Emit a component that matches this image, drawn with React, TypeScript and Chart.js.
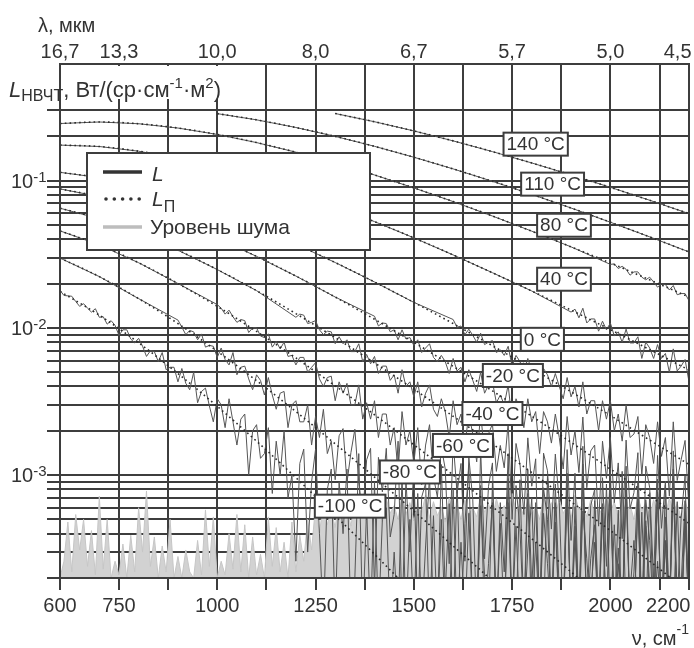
import React, { useEffect, useRef } from 'react';
import { Chart, registerables } from 'chart.js';

Chart.register(...registerables);

// ---------------- axes ----------------
const nuMin = 600;
const nuMax = 2200;
const nuGridTicks = [600, 750, 875, 1000, 1125, 1250, 1375, 1500, 1625, 1750, 1875, 2000, 2125, 2200];
const nuLabelTicks = [600, 750, 1000, 1250, 1500, 1750, 2000, 2147];
const nuLabelTexts = ['600', '750', '1000', '1250', '1500', '1750', '2000', '2200'];
const lambdaTicks = [600, 750, 1000, 1250, 1500, 1750, 2000, 2171];
const lambdaLabels = ['16,7', '13,3', '10,0', '8,0', '6,7', '5,7', '5,0', '4,5'];

const yMin = 2e-4;
const yMax = 0.62;
const yGridTicks = [
  2e-4, 3e-4, 4e-4, 5e-4, 6e-4, 7e-4, 8e-4, 9e-4,
  1e-3, 2e-3, 3e-3, 4e-3, 5e-3, 6e-3, 7e-3, 8e-3, 9e-3,
  1e-2, 2e-2, 3e-2, 4e-2, 5e-2, 6e-2, 7e-2, 8e-2, 9e-2,
  0.1, 0.2, 0.3,
];
const yLabelTicks = [0.1, 0.01, 0.001];
const yLabelExps = ['-1', '-2', '-3'];

// ---------------- series ----------------
const temperatures = ['140 °C', '110 °C', '80 °C', '40 °C', '0 °C', '-20 °C', '-40 °C', '-60 °C', '-80 °C', '-100 °C'];

// L_П (dotted), W/(sr·cm^-1·m^2), sampled every 100 cm^-1
const nuLP = [600, 700, 800, 900, 1000, 1100, 1200, 1300, 1400, 1500, 1600, 1700, 1800, 1900, 2000, 2100, 2200];
const LP_140 = [null, null, null, null, null, null, null, 0.2859, 0.2513, 0.2177, 0.1863, 0.1575, 0.1319, 0.1094, 0.0901, 0.0736, 0.0597];
const LP_110 = [null, null, null, null, 0.2853, 0.2589, 0.2297, 0.1999, 0.1711, 0.1443, 0.1202, 0.099, 0.0807, 0.0652, 0.0522, 0.0415, 0.0328];
const LP_80 = [0.2444, 0.2503, 0.2436, 0.2277, 0.206, 0.1814, 0.1561, 0.1318, 0.1093, 0.0893, 0.0721, 0.0575, 0.0454, 0.0355, 0.0276, 0.0212, 0.0162];
const LP_40 = [0.1744, 0.1706, 0.1585, 0.1412, 0.1216, 0.1018, 0.0833, 0.0668, 0.0527, 0.0409, 0.0313, 0.0237, 0.0178, 0.0132, 0.00973, 0.00712, 0.00517];
const LP_0 = [0.1139, 0.1049, 0.0915, 0.0765, 0.0617, 0.0484, 0.0371, 0.0278, 0.0205, 0.0149, 0.0107, 0.00756, 0.0053, 0.00368, 0.00254, 0.00173, 0.00118];
const LP_m20 = [0.0879, 0.0779, 0.0653, 0.0524, 0.0406, 0.0306, 0.0225, 0.0162, 0.01145, 0.00798, 0.00548, 0.00373, 0.00251, 0.00167, 0.0011, 0.00072, 0.00047];
const LP_m40 = [0.065, 0.0551, 0.0441, 0.0337, 0.0249, 0.0179, 0.0125, 0.00859, 0.00579, 0.00384, 0.00251, 0.00163, 0.00104, 0.00066, 0.00042, 0.00026, 0.00016];
const LP_m60 = [0.0456, 0.0366, 0.0277, 0.02, 0.014, 0.00946, 0.00625, 0.00404, 0.00257, 0.00161, 0.001, 0.00061, 0.00037, 0.00022, 0.00013, 0.00008, 0.00005];
const LP_m80 = [0.0298, 0.0223, 0.0158, 0.0107, 0.00694, 0.00438, 0.0027, 0.00163, 0.00097, 0.00057, 0.00033, 0.00019, 0.0001, 0.00006, 0.00003, 0.00002, 0.00001];
const LP_m100 = [0.0177, 0.0122, 0.00792, 0.0049, 0.00293, 0.0017, 0.00096, 0.00053, 0.00029, 0.000155, 0.00008, 0.00004, 0.00002, 0.00001, 0.000005, 0.000002, 0.000001];

// measured L (solid), noisy parts in units of 1e-4 W/(sr·cm^-1·m^2),
// sampled every 10 cm^-1 starting at noisyStart
const L_UNIT = 1e-4;
const NOISY_STEP = 10;
const noisyStart = [null, null, 2000, 1900, 1600, 1400, 1200, 1000, 900, 600];
const L_80 = [270, 272, 253, 262, 250, 228, 240, 240, 221, 212, 221, 205, 189, 199, 197, 181, 194, 168, 171, 171, 153];
const L_40 = [128, 134, 117, 136, 108, 115, 115, 95, 111, 97, 108, 88, 94, 80, 98, 79, 79, 87, 62, 80, 73, 62, 77, 62, 67, 50, 72, 51, 55, 61, 43];
const L_0 = [
  114, 101, 103, 90, 98, 89, 80, 92, 77, 80,
  82, 68, 71, 65, 75, 55, 65, 59, 51, 62,
  51, 54, 40, 53, 48, 40, 49, 40, 33, 46,
  34, 40, 29, 43, 26, 32, 32, 20, 32, 24,
  32, 20, 26, 17, 30, 18, 19, 25, 10, 22,
  18, 12, 23, 13.4, 18, 7.2, 23, 9.2, 12.7, 17.2,
  5.8,
];
const L_m20 = [
  120, 103, 108, 107, 94, 97, 83, 97, 84, 86,
  76, 83, 68, 73, 78, 63, 59, 65, 59, 49,
  62, 51, 54, 43, 52, 44, 37, 50, 36, 41,
  43, 31, 35, 30, 41, 23, 33, 28, 21, 33,
  23, 27, 14, 27, 23, 16.5, 26, 18, 11, 25,
  13.7, 20, 10.4, 24.8, 8.2, 14.6, 16, 4.5, 17, 9.5,
  18, 6.5, 12.1, 3.7, 17.3, 5.9, 7.6, 14.2, 1, 11.5,
  8.2, 1.9, 13.6, 4.35, 9.1, 1, 14.6, 1.35, 5.1, 9.9,
  1,
];
const L_m40 = [
  118, 124, 122, 107, 109, 112, 97, 90, 95, 94,
  78, 87, 78, 83, 69, 69, 78, 59, 66, 57,
  64, 49, 55, 55, 44, 48, 36, 52, 40, 43,
  34, 43, 29, 36, 41, 28, 25, 33, 27, 18,
  32, 22, 26, 16, 26, 19, 12.3, 26.5, 13.7, 19,
  22.3, 10.6, 15.9, 11.2, 22.6, 5, 16.4, 11.9, 5.4, 17.9,
  8.4, 12.9, 1, 14.1, 10.7, 4.3, 13.9, 6.5, 1, 14.9,
  3.6, 10.3, 1, 15.7, 1, 6.2, 8, 1, 9.6, 2.4,
  11.2, 1, 5.8, 1, 11.5, 1, 2.2, 9, 1, 6.8,
  3.6, 1, 9.4, 1, 5.2, 1, 11, 1, 1.8, 6.7,
  1,
];
const L_m60 = [
  144, 136, 124, 132, 119, 109, 114, 112, 93, 100,
  100, 88, 86, 91, 74, 81, 72, 80, 64, 65,
  56, 63, 63, 50, 54, 58, 45, 40, 46, 47,
  32, 43, 36, 42, 30, 30, 41, 24, 31, 24,
  32, 18, 26, 26, 16, 21, 10.5, 27, 16, 20,
  12, 21, 8.6, 16, 22, 9.7, 7.1, 15.5, 11, 2.5,
  17, 7.5, 12, 2.6, 13.2, 6.8, 1, 15, 2.7, 8.4,
  12.1, 1, 6.5, 2.2, 14, 1, 8.5, 4.3, 1, 10.9,
  1.7, 6.5, 1, 8.2, 5, 1, 8.7, 1.6, 1, 10.3,
  1, 6.1, 1, 11.9, 1, 2.7, 4.6, 1, 6.4, 1,
  8.3, 1, 3.2, 1, 9.1, 1, 1, 7, 1, 4.9,
  1.8, 1, 7.7, 1, 3.6, 1, 9.6, 1, 1, 5.5,
  1,
];
const L_m80 = [
  113, 101, 90, 96, 94, 83, 91, 74, 76, 75,
  63, 73, 61, 56, 68, 48, 54, 55, 45, 38,
  48, 44, 35, 46, 35, 28, 36, 37, 21, 30,
  32, 23, 23, 30, 16, 25, 18, 28, 14, 17,
  9.3, 18.5, 20.7, 8.9, 14.2, 20.5, 8.9, 5.3, 12.7, 15.2,
  1.7, 13.2, 7.7, 15.2, 3.8, 5.4, 17, 1, 9.3, 3,
  11.7, 1, 7.1, 8.8, 1, 5.3, 1, 11.8, 1.6, 6.4,
  1, 9.1, 1, 4.7, 11.6, 1, 1, 6.2, 2.1, 1,
  8.9, 1, 4.7, 1, 6.5, 1, 1, 9.3, 1, 3.1,
  7, 1, 1.9, 1, 9.8, 1, 4.8, 1, 1, 7.7,
  1, 3.7, 1, 5.7, 2.7, 1, 6.7, 1, 1, 8.7,
  1, 4.6, 1, 10.6, 1, 1.6, 3.6, 1, 5.6, 1,
  7.6, 1, 2.6, 1, 8.6, 1, 1, 6.6, 1, 4.6,
  1.6,
];
const L_m100 = [
  180, 166, 165, 164, 151, 140, 146, 136, 128, 135,
  118, 119, 106, 112, 104, 89, 97, 97, 84, 79,
  85, 75, 64, 70, 69, 59, 68, 52, 54, 54,
  43, 53, 42, 38, 50, 31, 37, 39, 29.5, 23,
  33, 30, 21, 33, 23, 16, 24, 26, 10, 20,
  22, 13, 14, 21, 7.5, 17, 10, 20, 7, 10,
  2.6, 12, 15, 3, 9, 15, 4, 1, 8, 11,
  1, 9, 4, 11, 1, 2, 14, 1, 6, 1,
  9, 1, 5, 6, 1, 3, 1, 10, 1, 5,
  1, 7.5, 1, 3.3, 10, 1, 1, 5, 1, 1,
  8, 1, 3.5, 1, 5.5, 1, 1, 8.5, 1, 2.5,
  6.5, 1, 1.5, 1, 9.5, 1, 4.5, 1, 1, 7.5,
  1, 3.5, 1, 5.5, 2.5, 1, 6.5, 1, 1, 8.5,
  1, 4.5, 1, 10.5, 1, 1.5, 3.5, 1, 5.5, 1,
  7.5, 1, 2.5, 1, 8.5, 1, 1, 6.5, 1, 4.5,
  1.5, 1, 7.5, 1, 3.5, 1, 9.5, 1, 1, 5.5,
  1,
];

// noise level (light grey), W/(sr·cm^-1·m^2), sampled every 10 cm^-1 from 600
const NOISE_START = 600;
const NOISE_STEP = 10;
const noiseLevel = [
  2.0e-4, 2.6e-4, 4.8e-4, 2.2e-4, 5.4e-4, 3.1e-4, 5.0e-4, 2.4e-4, 4.2e-4, 2.1e-4,
  7.2e-4, 2.3e-4, 5.0e-4, 2.0e-4, 2.6e-4, 2.1e-4, 3.4e-4, 2.0e-4, 3.9e-4, 2.2e-4,
  6.0e-4, 3.0e-4, 7.8e-4, 2.4e-4, 3.8e-4, 2.0e-4, 3.3e-4, 2.2e-4, 5.0e-4, 2.0e-4,
  2.8e-4, 2.0e-4, 3.1e-4, 2.2e-4, 2.0e-4, 3.6e-4, 2.1e-4, 5.8e-4, 2.4e-4, 5.2e-4,
  2.0e-4, 2.6e-4, 2.1e-4, 4.0e-4, 2.3e-4, 5.4e-4, 2.2e-4, 4.6e-4, 2.0e-4, 3.8e-4,
  2.1e-4, 2.9e-4, 2.0e-4, 5.2e-4, 2.4e-4, 4.4e-4, 2.2e-4, 3.5e-4, 2.0e-4, 4.8e-4,
  2.2e-4, 3.9e-4, 2.6e-4, 5.0e-4, 3.1e-4, 6.2e-4, 4.0e-4, 6.6e-4, 4.6e-4, 5.8e-4,
  4.4e-4, 7.0e-4, 5.0e-4, 6.1e-4, 4.5e-4, 6.8e-4, 5.2e-4, 5.9e-4, 4.7e-4, 7.4e-4,
  5.3e-4, 6.4e-4, 4.8e-4, 6.9e-4, 5.5e-4, 6.2e-4, 5.0e-4, 7.1e-4, 5.4e-4, 6.5e-4,
  4.9e-4, 6.0e-4, 5.6e-4, 7.3e-4, 5.1e-4, 6.6e-4, 5.3e-4, 6.1e-4, 4.8e-4, 7.0e-4,
  5.5e-4, 6.3e-4, 5.0e-4, 6.8e-4, 5.4e-4, 6.0e-4, 5.2e-4, 7.2e-4, 5.6e-4, 6.4e-4,
  5.1e-4, 6.9e-4, 5.5e-4, 6.2e-4, 5.0e-4, 7.5e-4, 5.7e-4, 6.3e-4, 5.2e-4, 6.7e-4,
  5.4e-4, 6.1e-4, 5.0e-4, 7.1e-4, 5.6e-4, 6.5e-4, 5.3e-4, 6.9e-4, 5.5e-4, 6.2e-4,
  5.1e-4, 7.3e-4, 5.8e-4, 6.4e-4, 5.2e-4, 6.8e-4, 5.5e-4, 6.0e-4, 5.3e-4, 7.0e-4,
  5.6e-4, 6.6e-4, 5.1e-4, 6.9e-4, 5.4e-4, 6.3e-4, 5.0e-4, 7.2e-4, 5.7e-4, 6.5e-4,
  5.2e-4, 6.8e-4, 5.5e-4, 6.1e-4, 5.3e-4, 7.0e-4, 5.6e-4, 6.4e-4, 5.1e-4, 6.7e-4,
  5.4e-4,
];

// temperature label anchors (data space: ν, L)
const labelNu = [1810, 1853, 1882, 1882, 1827, 1752, 1700, 1625, 1490, 1338];
const labelL = [0.177, 0.0947, 0.0498, 0.0214, 0.00836, 0.00475, 0.00262, 0.00159, 0.00105, 0.000615];

// ---------------- styles ----------------
const FONT = "'Liberation Sans', Arial, Helvetica, sans-serif";
const INK = '#333333';
const GRID = '#3d3d3d';

const LPs = [LP_140, LP_110, LP_80, LP_40, LP_0, LP_m20, LP_m40, LP_m60, LP_m80, LP_m100];
const Ls: number[][] = [[], [], L_80, L_40, L_0, L_m20, L_m40, L_m60, L_m80, L_m100];

function measuredPoints(lp: (number | null)[], start: number | null, noisy: number[]) {
  const pts: { x: number; y: number | null }[] = [];
  nuLP.forEach((nu, i) => {
    if (start === null || nu < start) pts.push({ x: nu, y: lp[i] });
  });
  if (start !== null) noisy.forEach((v, i) => pts.push({ x: start + NOISY_STEP * i, y: v * L_UNIT }));
  return pts;
}

type Run = { t: string; size: number; italic?: boolean; dy?: number };
function setFont(ctx: CanvasRenderingContext2D, r: Run) {
  ctx.font = `${r.italic ? 'italic ' : ''}${r.size}px ${FONT}`;
}
function drawRuns(ctx: CanvasRenderingContext2D, x: number, y: number, runs: Run[]) {
  let cx = x;
  ctx.textAlign = 'left';
  ctx.textBaseline = 'alphabetic';
  for (const r of runs) {
    setFont(ctx, r);
    ctx.fillText(r.t, cx, y + (r.dy || 0));
    cx += ctx.measureText(r.t).width;
  }
  return cx;
}
function runsWidth(ctx: CanvasRenderingContext2D, runs: Run[]) {
  let w = 0;
  for (const r of runs) {
    setFont(ctx, r);
    w += ctx.measureText(r.t).width;
  }
  return w;
}

const decorPlugin = {
  id: 'decor',
  afterDatasetsDraw(chart: any) {
    const { ctx, chartArea: ca, scales } = chart;
    const xs = scales.x;
    const ys = scales.y;
    ctx.save();

    // frame
    ctx.strokeStyle = GRID;
    ctx.lineWidth = 2;
    ctx.strokeRect(ca.left, ca.top, ca.right - ca.left, ca.bottom - ca.top);

    // y-axis title (white backing inside the plot)
    ctx.fillStyle = '#ffffff';
    ctx.fillRect(ca.left + 2, ca.top + 2, 180, 33);
    ctx.fillStyle = INK;
    drawRuns(ctx, 9, 97, [
      { t: 'L', size: 22, italic: true },
      { t: 'НВЧТ', size: 16, dy: 4 },
      { t: ', Вт/(ср·см', size: 22 },
      { t: '-1', size: 15, dy: -9 },
      { t: '·м', size: 22 },
      { t: '2', size: 15, dy: -9 },
      { t: ')', size: 22 },
    ]);

    // top title
    drawRuns(ctx, 38, 32, [{ t: 'λ, мкм', size: 20 }]);

    // x title
    const xt: Run[] = [{ t: 'ν, см', size: 20 }, { t: '-1', size: 14, dy: -11 }];
    drawRuns(ctx, ca.right - runsWidth(ctx, xt), 645, xt);

    // y tick labels 10^-n
    yLabelTicks.forEach((v, i) => {
      const py = ys.getPixelForValue(v);
      drawRuns(ctx, 11, py, [
        { t: '10', size: 20, dy: 7 },
        { t: yLabelExps[i], size: 15, dy: 1 },
      ]);
    });

    // legend
    ctx.fillStyle = '#ffffff';
    ctx.fillRect(87, 153, 283, 97);
    ctx.strokeStyle = GRID;
    ctx.lineWidth = 2;
    ctx.strokeRect(87, 153, 283, 97);
    ctx.lineCap = 'butt';
    ctx.strokeStyle = '#333333';
    ctx.lineWidth = 3.5;
    ctx.beginPath();
    ctx.moveTo(103, 172);
    ctx.lineTo(142, 172);
    ctx.stroke();
    ctx.fillStyle = '#333333';
    for (let k = 0; k < 5; k++) {
      ctx.beginPath();
      ctx.arc(106 + k * 8.3, 199, 1.8, 0, Math.PI * 2);
      ctx.fill();
    }
    ctx.strokeStyle = '#bdbdbd';
    ctx.beginPath();
    ctx.moveTo(103, 227);
    ctx.lineTo(142, 227);
    ctx.stroke();
    ctx.fillStyle = INK;
    drawRuns(ctx, 152, 181, [{ t: 'L', size: 21, italic: true }]);
    drawRuns(ctx, 152, 206, [{ t: 'L', size: 21, italic: true }, { t: 'П', size: 16, dy: 6 }]);
    drawRuns(ctx, 150, 234, [{ t: 'Уровень шума', size: 21 }]);

    // temperature labels
    temperatures.forEach((t, i) => {
      const cx = xs.getPixelForValue(labelNu[i]);
      const cy = ys.getPixelForValue(labelL[i]);
      ctx.font = `19px ${FONT}`;
      const w = ctx.measureText(t).width + 6;
      const h = 23;
      ctx.fillStyle = '#ffffff';
      ctx.fillRect(cx - w / 2, cy - h / 2, w, h);
      ctx.strokeStyle = GRID;
      ctx.lineWidth = 2;
      ctx.strokeRect(cx - w / 2, cy - h / 2, w, h);
      ctx.fillStyle = INK;
      ctx.textAlign = 'center';
      ctx.textBaseline = 'middle';
      ctx.fillText(t, cx, cy + 1);
    });

    ctx.restore();
  },
};

export default function App() {
  const ref = useRef<HTMLCanvasElement>(null);

  useEffect(() => {
    if (!ref.current) return;
    const datasets: any[] = [];
    datasets.push({
      label: 'Уровень шума',
      data: noiseLevel.map((v, i) => ({ x: NOISE_START + NOISE_STEP * i, y: v })),
      borderColor: '#c6c6c6',
      backgroundColor: '#d2d2d2',
      borderWidth: 1,
      fill: 'start',
      pointRadius: 0,
      tension: 0,
      order: 3,
    });
    temperatures.forEach((t, i) => {
      datasets.push({
        label: 'L ' + t,
        data: measuredPoints(LPs[i], noisyStart[i], Ls[i]),
        borderColor: '#555555',
        borderWidth: 1,
        pointRadius: 0,
        tension: 0,
        fill: false,
        order: 2,
      });
    });
    temperatures.forEach((t, i) => {
      datasets.push({
        label: 'LП ' + t,
        data: nuLP.map((nu, k) => ({ x: nu, y: LPs[i][k] })),
        borderColor: '#2a2a2a',
        borderWidth: 1.6,
        borderDash: [1.6, 3.2],
        pointRadius: 0,
        cubicInterpolationMode: 'monotone',
        fill: false,
        order: 1,
      });
    });

    const gridColor = (c: any) => (c.tick && nuGridTicks.includes(c.tick.value) ? GRID : 'rgba(0,0,0,0)');
    const allNuTicks = Array.from(new Set([...nuGridTicks, ...nuLabelTicks])).sort((a, b) => a - b);

    const chart = new Chart(ref.current, {
      type: 'line',
      data: { datasets },
      plugins: [decorPlugin],
      options: {
        responsive: false,
        animation: false,
        devicePixelRatio: 1,
        layout: { padding: { left: 0, right: 5, top: 0, bottom: 0 } },
        plugins: { legend: { display: false }, tooltip: { enabled: false } },
        scales: {
          x: {
            type: 'linear',
            position: 'bottom',
            min: nuMin,
            max: nuMax,
            afterBuildTicks: (s: any) => { s.ticks = allNuTicks.map((v) => ({ value: v })); },
            afterFit: (s: any) => { s.height = 70; },
            grid: { color: gridColor, tickColor: gridColor, lineWidth: 2, tickLength: 12, drawTicks: true },
            border: { display: true, color: GRID, width: 2 },
            ticks: {
              autoSkip: false, maxRotation: 0, minRotation: 0, padding: 4, color: INK,
              font: { family: FONT, size: 20 },
              callback: (v: any) => { const i = nuLabelTicks.indexOf(Number(v)); return i >= 0 ? nuLabelTexts[i] : ''; },
            },
          },
          x2: {
            type: 'linear',
            position: 'top',
            min: nuMin,
            max: nuMax,
            afterBuildTicks: (s: any) => { s.ticks = lambdaTicks.map((v) => ({ value: v })); },
            afterFit: (s: any) => { s.height = 64; },
            grid: { display: false, drawTicks: false },
            border: { display: true, color: GRID, width: 2 },
            ticks: {
              autoSkip: false, maxRotation: 0, minRotation: 0, padding: 0, color: INK,
              font: { family: FONT, size: 20 },
              callback: (v: any) => { const i = lambdaTicks.indexOf(Number(v)); return i >= 0 ? lambdaLabels[i] : ''; },
            },
          },
          y: {
            type: 'logarithmic',
            min: yMin,
            max: yMax,
            afterBuildTicks: (s: any) => { s.ticks = yGridTicks.map((v) => ({ value: v })); },
            afterFit: (s: any) => { s.width = 60; },
            grid: { color: GRID, tickColor: GRID, lineWidth: 2, tickLength: 13, drawTicks: true },
            border: { display: true, color: GRID, width: 2 },
            ticks: { callback: () => '', font: { family: FONT, size: 12 } },
          },
        },
      } as any,
    });
    return () => chart.destroy();
  }, []);

  return (
    <div style={{ position: 'absolute', left: 0, top: 0, width: 694, height: 648, background: '#ffffff' }}>
      <canvas ref={ref} width={694} height={648} style={{ width: 694, height: 648, display: 'block' }} />
    </div>
  );
}
